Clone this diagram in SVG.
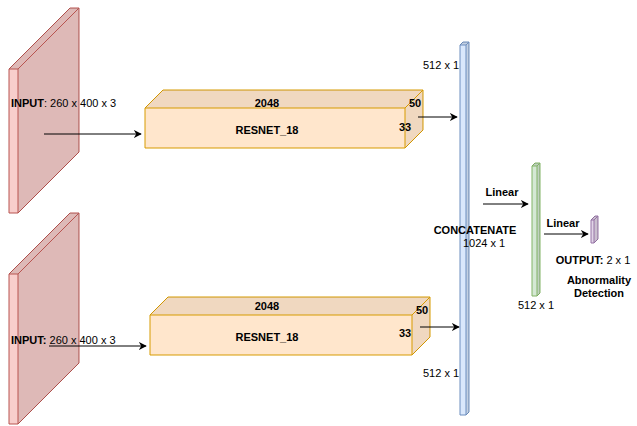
<svg xmlns="http://www.w3.org/2000/svg" width="637" height="426" viewBox="0 0 637 426">
<defs>
<marker id="arr" viewBox="0 0 10 10" refX="9" refY="5" markerWidth="8" markerHeight="8" markerUnits="userSpaceOnUse" orient="auto">
<path d="M0,0 L10,5 L0,10 L3,5 Z" fill="#000"/>
</marker>
</defs>
<style>
text{font-family:"Liberation Sans",Arial,sans-serif;font-size:11px;fill:#000}
.b{font-weight:bold}
.shade{fill:#000;fill-opacity:0.1;stroke:none}
.conn{stroke:#000;stroke-width:1;fill:none;marker-end:url(#arr)}
.red{fill:#f8cecc;stroke:#b85450}
.org{fill:#ffe6cc;stroke:#d79b00}
.blu{fill:#dae8fc;stroke:#6c8ebf}
.grn{fill:#d5e8d4;stroke:#82b366}
.pur{fill:#e1d5e7;stroke:#9673a6}
.ln{fill:none}
</style>
<g id="input1">
<polygon class="red" points="9,69 70,8 79,8 79,152 18,213 9,213"/>
<polygon class="shade" points="9,69 70,8 79,8 79,152 18,213 18,69"/>
<path class="red ln" d="M18,69 H9 M18,69 L79,8 M18,69 V213"/>
<text x="11" y="107"><tspan class="b">INPUT</tspan>: 260 x 400 x 3</text>
</g>
<g id="input2">
<polygon class="red" points="9,274 70,213 79,213 79,363 18,424 9,424"/>
<polygon class="shade" points="9,274 70,213 79,213 79,363 18,424 18,274"/>
<path class="red ln" d="M18,274 H9 M18,274 L79,213 M18,274 V424"/>
<text x="11" y="344"><tspan class="b">INPUT:</tspan> 260 x 400 x 3</text>
</g>
<g id="resnet1">
<polygon class="org" points="145,108 163,90 423,90 423,130 405,148 145,148"/>
<polygon class="shade" style="fill-opacity:0.06" points="145,108 163,90 423,90 423,130 405,148 405,108"/>
<path class="org ln" d="M405,108 H145 M405,108 L423,90 M405,108 V148"/>
<text class="b" x="267" y="107" text-anchor="middle">2048</text>
<text class="b" x="267" y="134" text-anchor="middle">RESNET_18</text>
<text class="b" x="409" y="107">50</text>
<text class="b" x="399" y="131">33</text>
</g>
<g id="resnet2">
<polygon class="org" points="150,315 168,297 430,297 430,337 412,355 150,355"/>
<polygon class="shade" style="fill-opacity:0.06" points="150,315 168,297 430,297 430,337 412,355 412,315"/>
<path class="org ln" d="M412,315 H150 M412,315 L430,297 M412,315 V355"/>
<text class="b" x="267" y="310" text-anchor="middle">2048</text>
<text class="b" x="267" y="341" text-anchor="middle">RESNET_18</text>
<text class="b" x="416" y="314">50</text>
<text class="b" x="399" y="337">33</text>
</g>
<g id="concat">
<polygon class="blu" points="460,45 463,42 469,42 469,412 466,415 460,415"/>
<polygon class="shade" points="460,45 463,42 469,42 469,412 466,415 466,45"/>
<path class="blu ln" d="M466,45 H460 M466,45 L469,42 M466,45 V415"/>
<text x="423" y="69">512 x 1</text>
<text x="423" y="377">512 x 1</text>
<text class="b" x="475" y="234" text-anchor="middle">CONCATENATE</text>
<text x="484" y="247" text-anchor="middle">1024 x 1</text>
</g>
<g id="fc">
<polygon class="grn" points="532,166 535,163 540,163 540,293 537,296 532,296"/>
<polygon class="shade" points="532,166 535,163 540,163 540,293 537,296 537,166"/>
<path class="grn ln" d="M537,166 H532 M537,166 L540,163 M537,166 V296"/>
<text x="536" y="309" text-anchor="middle">512 x 1</text>
</g>
<g id="output">
<polygon class="pur" points="591,220 595,216 598,216 598,239 594,243 591,243"/>
<polygon class="shade" points="591,220 595,216 598,216 598,239 594,243 594,220"/>
<path class="pur ln" d="M594,220 H591 M594,220 L598,216 M594,220 V243"/>
<text x="593" y="264" text-anchor="middle"><tspan class="b">OUTPUT:</tspan> 2 x 1</text>
<text class="b" x="599" y="284" text-anchor="middle">Abnormality</text>
<text class="b" x="599" y="297" text-anchor="middle">Detection</text>
</g>
<g id="connectors">
<line class="conn" x1="44" y1="134" x2="141" y2="134"/>
<line class="conn" x1="49" y1="346" x2="146" y2="346"/>
<line class="conn" x1="418" y1="117" x2="457" y2="117"/>
<line class="conn" x1="420" y1="327" x2="459" y2="327"/>
<line class="conn" x1="483" y1="204" x2="528" y2="204"/>
<line class="conn" x1="544" y1="234" x2="588" y2="234"/>
<text x="502" y="196" text-anchor="middle" class="b">Linear</text>
<text x="563" y="227" text-anchor="middle" class="b">Linear</text>
</g>
</svg>
